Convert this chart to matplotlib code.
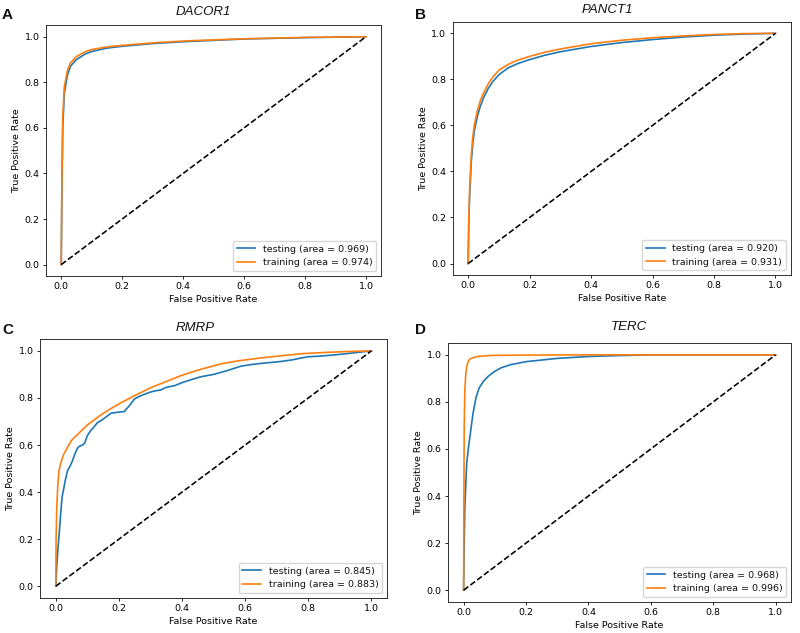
import matplotlib
matplotlib.use("Agg")
import matplotlib.pyplot as plt

# ---------------- data ----------------
titles = ["DACOR1", "PANCT1", "RMRP", "TERC"]
panel_letters = ["A", "B", "C", "D"]
test_auc = ["0.969", "0.920", "0.845", "0.968"]
train_auc = ["0.974", "0.931", "0.883", "0.996"]

a_test_fpr = [0, 0.002, 0.005, 0.01, 0.02, 0.03, 0.05, 0.08, 0.1, 0.15, 0.2, 0.3, 0.4, 0.6, 0.8, 1.0]
a_test_tpr = [0, 0.30, 0.60, 0.75, 0.83, 0.87, 0.90, 0.925, 0.935, 0.95, 0.958, 0.97, 0.978, 0.99, 0.996, 1.0]
a_train_fpr = [0, 0.002, 0.005, 0.01, 0.02, 0.03, 0.05, 0.08, 0.1, 0.15, 0.2, 0.3, 0.4, 0.6, 0.8, 1.0]
a_train_tpr = [0, 0.35, 0.65, 0.78, 0.85, 0.885, 0.913, 0.935, 0.944, 0.955, 0.962, 0.973, 0.981, 0.991, 0.997, 1.0]

b_test_fpr = [0, 0.002, 0.005, 0.01, 0.015, 0.02, 0.03, 0.04, 0.05, 0.065, 0.08, 0.1, 0.13, 0.16, 0.2, 0.25, 0.3, 0.4, 0.5, 0.6, 0.7, 0.8, 0.9, 1.0]
b_test_tpr = [0, 0.17, 0.30, 0.44, 0.52, 0.575, 0.64, 0.685, 0.72, 0.76, 0.79, 0.82, 0.85, 0.868, 0.886, 0.905, 0.92, 0.943, 0.96, 0.973, 0.984, 0.992, 0.997, 1.0]
b_train_fpr = [0, 0.002, 0.005, 0.01, 0.015, 0.02, 0.03, 0.04, 0.05, 0.065, 0.08, 0.1, 0.13, 0.16, 0.2, 0.25, 0.3, 0.4, 0.5, 0.6, 0.7, 0.8, 0.9, 1.0]
b_train_tpr = [0, 0.20, 0.33, 0.47, 0.55, 0.60, 0.665, 0.71, 0.74, 0.78, 0.81, 0.84, 0.865, 0.883, 0.90, 0.918, 0.932, 0.955, 0.97, 0.981, 0.989, 0.995, 0.999, 1.0]

c_test_fpr = [0, 0.002, 0.005, 0.008, 0.011, 0.015, 0.02, 0.026, 0.03, 0.037, 0.045, 0.052, 0.06, 0.068, 0.075, 0.085, 0.092,
              0.1, 0.11, 0.12, 0.132, 0.145, 0.16, 0.175, 0.185, 0.2, 0.217, 0.225, 0.235, 0.249, 0.262, 0.28, 0.3, 0.315,
              0.333, 0.35, 0.376, 0.4, 0.43, 0.46, 0.5, 0.54, 0.587, 0.62, 0.66, 0.714, 0.75, 0.778, 0.8, 0.84, 0.884,
              0.92, 0.96, 1.0]
c_test_tpr = [0, 0.06, 0.125, 0.18, 0.225, 0.30, 0.38, 0.42, 0.45, 0.49, 0.51, 0.53, 0.56, 0.585, 0.595, 0.60, 0.61,
              0.64, 0.66, 0.675, 0.695, 0.705, 0.72, 0.735, 0.737, 0.74, 0.742, 0.755, 0.77, 0.795, 0.805, 0.815, 0.825, 0.83,
              0.834, 0.845, 0.852, 0.865, 0.878, 0.89, 0.90, 0.915, 0.935, 0.942, 0.948, 0.955, 0.962, 0.97, 0.975, 0.978, 0.983,
              0.988, 0.994, 1.0]
c_train_fpr = [0, 0.001, 0.003, 0.006, 0.01, 0.016, 0.025, 0.037, 0.05, 0.069, 0.1, 0.143, 0.175, 0.206, 0.25, 0.3, 0.35,
               0.397, 0.45, 0.524, 0.58, 0.65, 0.72, 0.778, 0.85, 0.92, 1.0]
c_train_tpr = [0, 0.20, 0.33, 0.42, 0.49, 0.525, 0.56, 0.59, 0.62, 0.645, 0.685, 0.728, 0.755, 0.779, 0.81, 0.843, 0.87,
               0.895, 0.918, 0.945, 0.958, 0.97, 0.98, 0.988, 0.993, 0.997, 1.0]

d_test_fpr = [0, 0.002, 0.004, 0.007, 0.01, 0.015, 0.023, 0.03, 0.04, 0.05, 0.065, 0.08, 0.1, 0.12, 0.15, 0.2, 0.25, 0.3, 0.4, 0.5, 0.6, 1.0]
d_test_tpr = [0, 0.20, 0.35, 0.45, 0.54, 0.60, 0.68, 0.75, 0.82, 0.86, 0.89, 0.91, 0.93, 0.945, 0.958, 0.971, 0.978, 0.985, 0.993, 0.997, 1.0, 1.0]
d_train_fpr = [0, 0.001, 0.002, 0.004, 0.007, 0.01, 0.015, 0.02, 0.03, 0.045, 0.07, 0.1, 0.2, 0.4, 1.0]
d_train_tpr = [0, 0.40, 0.70, 0.85, 0.92, 0.95, 0.972, 0.982, 0.988, 0.993, 0.996, 0.998, 0.999, 1.0, 1.0]

tests = [(a_test_fpr, a_test_tpr), (b_test_fpr, b_test_tpr), (c_test_fpr, c_test_tpr), (d_test_fpr, d_test_tpr)]
trains = [(a_train_fpr, a_train_tpr), (b_train_fpr, b_train_tpr), (c_train_fpr, c_train_tpr), (d_train_fpr, d_train_tpr)]

# ---------------- style ----------------
plt.rcParams.update({
    "font.family": ["DejaVu Sans"],
    "font.size": 6.8,
    "axes.linewidth": 0.65,
    "axes.edgecolor": "#222222",
    "xtick.major.size": 2.3,
    "ytick.major.size": 2.3,
    "xtick.major.width": 0.6,
    "ytick.major.width": 0.6,
    "xtick.major.pad": 2.3,
    "ytick.major.pad": 2.3,
    "axes.labelpad": 2.6,
    "legend.fontsize": 6.8,
    "lines.linewidth": 1.2,
    "text.color": "#111111",
})

fig = plt.figure(figsize=(8.0, 6.33), dpi=100)

axes_rects = [
    [0.0575, 0.564, 0.419, 0.396],
    [0.566, 0.5655, 0.4225, 0.400],
    [0.050, 0.0553, 0.434, 0.409],
    [0.560, 0.049, 0.429, 0.409],
]
title_pos = [(203, 12), (607, 10), (195, 328), (629, 327)]
letter_pos = [(7, 15), (420, 15), (8, 330), (420, 330)]

W, H = 800, 633
for i in range(4):
    ax = fig.add_axes(axes_rects[i])
    ax.plot(*tests[i], color="#1f77b4", lw=1.2, label=f"testing (area = {test_auc[i]})")
    ax.plot(*trains[i], color="#ff7f0e", lw=1.2, label=f"training (area = {train_auc[i]})")
    ax.plot([0, 1], [0, 1], "k--", lw=1.15)
    ax.set_xlabel("False Positive Rate")
    ax.set_ylabel("True Positive Rate")
    ax.legend(loc="lower right")
    tx, ty = title_pos[i]
    fig.text(tx / W, 1 - ty / H, titles[i], family="Liberation Sans", style="italic",
             fontsize=9.5, ha="center", va="center")
    lx, ly = letter_pos[i]
    fig.text(lx / W, 1 - ly / H, panel_letters[i], family="Liberation Sans", weight="bold",
             fontsize=11, ha="center", va="center")

fig.savefig("out.png", dpi=100)
